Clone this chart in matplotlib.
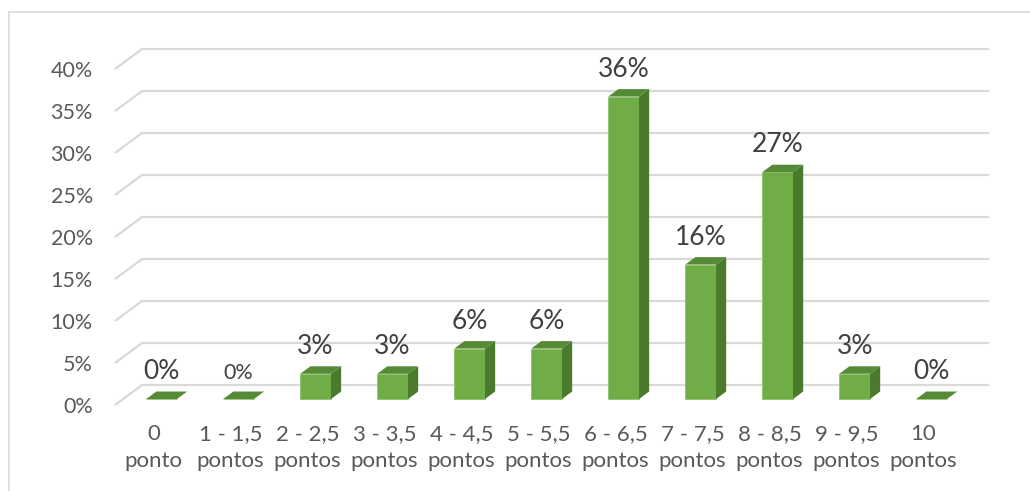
import matplotlib
matplotlib.use("Agg")
import matplotlib.pyplot as plt
from matplotlib.patches import Polygon
from matplotlib.lines import Line2D

# Score distribution (percentage of students per score band)
categories = ["0\nponto", "1 - 1,5\npontos", "2 - 2,5\npontos", "3 - 3,5\npontos",
              "4 - 4,5\npontos", "5 - 5,5\npontos", "6 - 6,5\npontos", "7 - 7,5\npontos",
              "8 - 8,5\npontos", "9 - 9,5\npontos", "10\npontos"]
values = [0, 0, 3, 3, 6, 6, 36, 16, 27, 3, 0]
value_labels = ["0%", "0%", "3%", "3%", "6%", "6%", "36%", "16%", "27%", "3%", "0%"]
yticks = [0, 5, 10, 15, 20, 25, 30, 35, 40]
ytick_labels = ["0%", "5%", "10%", "15%", "20%", "25%", "30%", "35%", "40%"]

plt.rcParams["font.family"] = ["Lato", "DejaVu Sans"]

W, H = 1030, 491
fig = plt.figure(figsize=(W / 100, H / 100), dpi=100)

# oblique depth projection (data units): full depth shift
DX, DY = 0.351, 2.38
BAR_FRONT, BAR_DEPTH = 0.30, 0.375
BAR_W = 0.40

ymax = 46
ax = fig.add_axes([115 / W, (H - 405) / H, (989 - 115) / W, 8.4 * ymax / H])
ax.set_xlim(-0.5, 10.85)
ax.set_ylim(0, ymax)
for s in ax.spines.values():
    s.set_visible(False)

grid_c = "#D9D9D9"
n = len(values)
for v in yticks:
    ax.plot([-0.5, -0.5 + DX, n - 0.5 + DX], [v, v + DY, v + DY],
            color=grid_c, lw=1.6, clip_on=False, zorder=1, solid_capstyle="butt")

front_c = "#70AD47"
side_c = "#4A7A2B"
top_c = "#578A37"

x0s = [i + BAR_FRONT * DX - BAR_W / 2 for i in range(n)]
base = BAR_FRONT * DY
ax.bar([x + BAR_W / 2 for x in x0s], values, width=BAR_W, bottom=base,
       color=front_c, edgecolor="#8CC46A", linewidth=0.6, zorder=3, clip_on=False)

bdx, bdy = BAR_DEPTH * DX, BAR_DEPTH * DY
for x0, v, lab, i in zip(x0s, values, value_labels, range(n)):
    x1 = x0 + BAR_W
    top = base + v
    ax.add_patch(Polygon([(x0, top), (x1, top), (x1 + bdx, top + bdy), (x0 + bdx, top + bdy)],
                         closed=True, facecolor=top_c, edgecolor="none", zorder=4, clip_on=False))
    if v > 0:
        ax.add_patch(Polygon([(x1, base), (x1 + bdx, base + bdy), (x1 + bdx, top + bdy), (x1, top)],
                             closed=True, facecolor=side_c, edgecolor="none", zorder=4, clip_on=False))
    size = 15.5 if i == 1 else 19
    ax.text(x0 + BAR_W / 2, top + bdy + 1.5, lab, ha="center", va="baseline",
            fontsize=size, color="#404040", zorder=5, clip_on=False)

ax.set_yticks(yticks)
ax.set_yticklabels(ytick_labels)
ax.set_xticks(range(n))
ax.set_xticklabels(categories, linespacing=1.4)
ax.tick_params(axis="both", length=0, labelsize=16, labelcolor="#595959")
ax.tick_params(axis="y", labelsize=15.5, pad=16)
ax.tick_params(axis="x", pad=14)

# chart area border
border = "#D9D9D9"
fig.add_artist(Line2D([9 / W, 1.0], [1 - 12 / H, 1 - 12 / H], color=border, lw=1.2,
                      transform=fig.transFigure))
fig.add_artist(Line2D([9 / W, 9 / W], [0, 1 - 12 / H], color=border, lw=1.2,
                      transform=fig.transFigure))

fig.savefig("out.png", dpi=100, facecolor="white")
